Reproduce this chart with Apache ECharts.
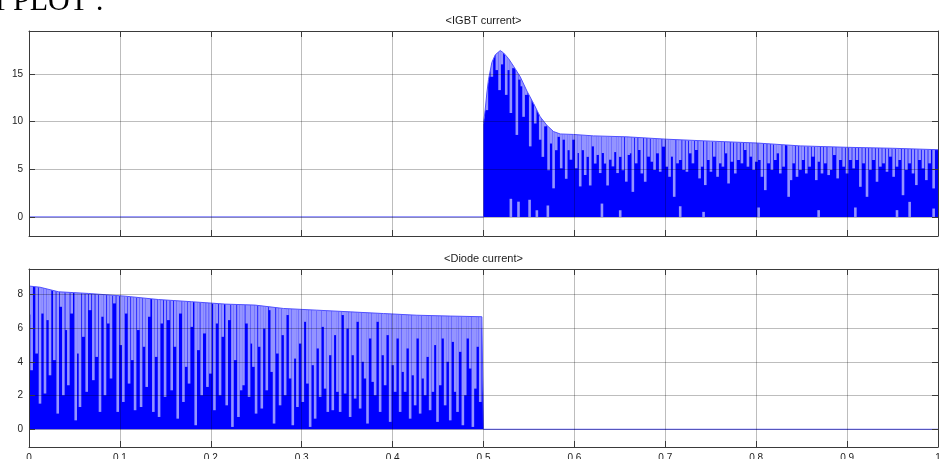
<!DOCTYPE html>
<html>
<head>
<meta charset="utf-8">
<script src="https://cdn.jsdelivr.net/npm/echarts@6/dist/echarts.min.js"></script>
<style>
html,body{margin:0;padding:0;background:#fff;}
#chart{width:940px;height:459px;}
</style>
</head>
<body>
<div id="chart"></div>
<script>
// ---------------- data ----------------
const xTicks = [0,0.1,0.2,0.3,0.4,0.5,0.6,0.7,0.8,0.9,1];
const xTickLabels = ['0','0.1','0.2','0.3','0.4','0.5','0.6','0.7','0.8','0.9','1'];
const igbtTicks = [0,5,10,15];
const diodeTicks = [0,2,4,6,8];
const igbtRange = [-2,19.5];
const diodeRange = [-1.05,9.5];
const titles = ['<IGBT current>','<Diode current>'];

// upper envelope of the switching waveform [t, A]
const igbtEnvelope = [[0,0],[0.5,0],[0.5,9.8],[0.5018,11.2],[0.5037,13.0],[0.5055,14.4],[0.5092,16.2],[0.5129,17.0],[0.5184,17.45],[0.5221,17.2],[0.5276,16.6],[0.5331,15.8],[0.5404,14.7],[0.5478,13.2],[0.5551,11.9],[0.5624,10.5],[0.5698,9.6],[0.5771,8.95],[0.5844,8.7],[0.5991,8.65],[0.6211,8.5],[0.6578,8.4],[0.7018,8.15],[0.75,7.95],[0.8012,7.75],[0.8484,7.45],[0.9003,7.3],[0.95,7.2],[1,7.05]];
const diodeEnvelope = [[0,8.49],[0.0121,8.42],[0.0323,8.15],[0.0653,8.05],[0.1057,7.89],[0.1423,7.69],[0.179,7.56],[0.2157,7.42],[0.2487,7.36],[0.2799,7.16],[0.3166,7.06],[0.3533,6.96],[0.39,6.86],[0.4266,6.76],[0.4634,6.71],[0.4982,6.67],[0.5,6.66],[0.5,0],[1,0]];

// lighter streaks: [t, lower end] (they run up to the envelope)
const igbtStreaks = [[0.5037,11.2],[0.5092,14.7],[0.5147,15.4],[0.5177,13.3],[0.5202,16.0],[0.525,12.8],[0.5275,15.4],[0.5301,10.9],[0.5323,15.6],[0.5367,8.6],[0.5397,14.4],[0.5422,13.7],[0.5441,10.5],[0.547,12.8],[0.5514,7.4],[0.5543,12.5],[0.5569,9.8],[0.5595,11.2],[0.5624,8.1],[0.5653,6.3],[0.5679,9.5],[0.5716,4.9],[0.5741,7.7],[0.5771,3.0],[0.58,7.0],[0.5826,8.4],[0.5855,5.1],[0.5881,8.1],[0.591,4.0],[0.5936,7.0],[0.5962,6.0],[0.5991,8.1],[0.602,5.1],[0.6046,6.7],[0.6064,3.2],[0.6094,7.0],[0.6119,4.4],[0.6145,6.3],[0.6174,3.3],[0.6204,7.4],[0.6229,5.6],[0.6255,6.5],[0.6284,4.6],[0.6314,6.7],[0.6339,5.6],[0.6365,3.3],[0.6395,6.0],[0.6424,5.3],[0.6449,6.8],[0.6475,4.6],[0.6504,6.3],[0.6534,4.9],[0.6571,3.7],[0.6596,6.5],
[0.6614,6.67],[0.6643,2.63],[0.668,5.62],[0.6717,7.02],[0.6742,4.56],[0.6779,3.69],[0.6816,6.32],[0.6853,5.79],[0.6882,4.92],[0.6915,6.67],[0.6944,4.74],[0.6981,7.37],[0.7018,5.27],[0.7047,4.21],[0.7073,6.32],[0.7098,2.11],[0.7135,5.62],[0.7164,5.97],[0.7201,4.92],[0.7238,4.74],[0.7275,6.67],[0.7304,5.62],[0.7341,7.02],[0.7377,4.04],[0.7403,5.27],[0.744,3.34],[0.7476,5.97],[0.7502,4.74],[0.7539,6.32],[0.7575,4.21],[0.7605,5.62],[0.7634,5.27],[0.7671,6.67],[0.7696,3.51],[0.7733,5.79],[0.777,4.56],[0.7806,5.97],[0.7843,5.62],[0.788,7.02],[0.7909,5.27],[0.7942,6.32],[0.7972,4.92],[0.8001,5.79],[0.8038,5.97],[0.8063,4.21],[0.81,2.81],[0.8137,5.62],[0.8173,4.92],[0.821,5.97],[0.8236,6.67],[0.8265,4.56],[0.8302,5.27],[0.8357,2.11],[0.8383,3.86],[0.8412,5.62],[0.8449,4.21],[0.8486,4.92],[0.8515,5.97],[0.8551,4.56],[0.8588,5.27],[0.8625,6.32],[0.8661,3.86],[0.8687,5.79],[0.8724,4.56],[0.876,5.62],[0.8797,4.39],[0.8823,4.92],[0.886,6.49],[0.8896,4.04],[0.8926,5.97],[0.8962,5.27],[0.8999,4.56],[0.9036,5.97],[0.9072,5.09],[0.9109,5.97],[0.9146,3.16],[0.9182,5.62],[0.9219,2.11],[0.9256,4.92],[0.9292,5.97],[0.9329,3.69],[0.9366,5.27],[0.9402,5.62],[0.9439,4.74],[0.9476,6.32],[0.9512,4.21],[0.9549,5.27],[0.9578,5.97],[0.9615,2.28],[0.9652,4.92],[0.9688,5.62],[0.9725,4.56],[0.9762,3.34],[0.9798,5.97],[0.9835,5.09],[0.9872,3.86],[0.9908,5.62],[0.9952,2.99]];
// light streaks near zero: [t, upper end]
const igbtLowStreaks = [[0.5301,1.9],[0.5385,1.6],[0.5507,1.8],[0.5587,0.7],[0.5708,1.2],[0.6303,1.4],[0.6504,0.7],[0.7164,1.12],[0.7421,0.53],[0.8027,0.99],[0.8687,0.71],[0.9091,0.99],[0.9549,0.71],[0.9688,1.58],[0.9952,0.88]];
const diodeStreaks = [[0.0008,6.8],[0.0029,3.5],[0.0084,4.49],[0.0121,1.52],[0.0147,6.86],[0.0176,2.12],[0.0205,6.47],[0.0231,3.2],[0.0279,4.1],[0.0316,0.93],[0.0352,7.26],[0.0378,2.02],[0.0415,5.88],[0.0433,2.61],[0.047,6.86],[0.0514,0.53],[0.0543,4.49],[0.0561,1.32],[0.0598,5.48],[0.0635,2.22],[0.0671,7.06],[0.0708,2.91],[0.0745,4.29],[0.0781,1.03],[0.0807,6.67],[0.0836,2.02],[0.0873,6.27],[0.0902,3.01],[0.0939,7.46],[0.0976,1.03],[0.1013,4.99],[0.1038,1.62],[0.1068,6.86],[0.1101,2.71],[0.1137,4.1],[0.1167,1.13],[0.1203,5.88],[0.1233,1.32],[0.1266,4.89],[0.1295,2.51],[0.1321,6.67],[0.1368,1.03],[0.1398,4.29],[0.1431,0.73],[0.146,6.27],[0.1497,1.92],[0.1533,6.47],[0.157,2.31],[0.1607,4.89],[0.1636,0.63],[0.1665,6.86],[0.1699,1.62],[0.1728,3.7],[0.1761,2.71],[0.179,6.07],[0.1834,0.24],[0.1864,4.69],[0.19,2.02],[0.193,5.68],[0.1963,2.51],[0.1996,3.3],[0.204,1.13],[0.2065,6.27],[0.2102,2.02],[0.2131,5.48],[0.2175,1.42],[0.2201,6.47],[0.2238,0.14],[0.2267,4.1],[0.2304,0.73],[0.2333,2.31],[0.2359,2.61],[0.2395,6.27],[0.2421,1.92],[0.2451,5.08],
[0.2469,3.7],[0.2498,0.93],[0.2535,4.89],[0.2561,1.23],[0.259,5.97],[0.2616,2.31],[0.2652,7.06],[0.2671,3.4],[0.2696,0.34],[0.2733,4.49],[0.2762,1.42],[0.2792,5.58],[0.2818,2.02],[0.2843,6.77],[0.2873,3.01],[0.2902,0.24],[0.2928,4.19],[0.2953,1.32],[0.2983,5.08],[0.3012,1.62],[0.3038,6.37],[0.3063,2.71],[0.3093,0.14],[0.3122,3.8],[0.3148,0.63],[0.3177,4.79],[0.3203,1.92],[0.3232,6.07],[0.3258,2.41],[0.3287,1.03],[0.3313,4.39],[0.3342,1.13],[0.3368,5.58],[0.3393,2.22],[0.3423,1.03],[0.3452,6.77],[0.3478,2.12],[0.3503,5.97],[0.3533,0.73],[0.3562,4.39],[0.3588,1.82],[0.3614,6.37],[0.3643,1.23],[0.3672,4.0],[0.3698,3.01],[0.3724,0.34],[0.3753,5.38],[0.3782,2.81],[0.3808,2.02],[0.3834,6.37],[0.3863,1.03],[0.3892,4.39],[0.3918,2.61],[0.3944,5.58],[0.3973,0.44],[0.4002,3.8],[0.4028,2.22],[0.4054,5.38],[0.4083,1.03],[0.4113,3.4],[0.4138,2.22],[0.4164,4.79],[0.4193,0.63],[0.4223,3.2],[0.4248,1.42],[0.4274,5.38],[0.4303,0.93],[0.4333,3.01],[0.4358,2.02],[0.4384,4.29],[0.4413,1.13],[0.4443,2.22],[0.4468,4.99],[0.4494,0.44],[0.4523,2.61],[0.4553,5.38],[0.4578,1.42],[0.4604,4.0],[0.4634,0.53],[0.4663,5.18],[0.4689,2.22],[0.4714,1.03],[0.4744,4.59],[0.4773,0.24],[0.4799,2.02],[0.4825,5.38],[0.4854,3.6],[0.4883,0.14],[0.4909,2.41],[0.4934,4.89],[0.4964,1.62],[0.4989,5.97]];

// ---------------- chart ----------------
const BLUE = '#0000ff';
const LIGHT = '#9494ff';
const AXIS = '#3a3a3a';
const GRIDLINE = 'rgba(0,0,0,0.26)';
const FONT = 'Liberation Sans';

const chart = echarts.init(document.getElementById('chart'), null, {renderer: 'canvas'});

const grids = [
  {left: 29, top: 31, width: 909, height: 205, outerBoundsMode: 'none', containLabel: false},
  {left: 29, top: 269, width: 909, height: 178, outerBoundsMode: 'none', containLabel: false}
];
const ranges = [igbtRange, diodeRange];
const yTicks = [igbtTicks, diodeTicks];

const xAxes = [], yAxes = [];
for (let g = 0; g < 2; g++) {
  ['bottom','top'].forEach((pos) => {
    xAxes.push({
      type: 'value', gridIndex: g, position: pos, min: 0, max: 1, interval: 0.1, z: 10,
      axisLine: {show: true, onZero: false, lineStyle: {color: AXIS, width: 1}},
      axisTick: {show: true, inside: true, length: 6, lineStyle: {color: AXIS}},
      axisLabel: {show: (g === 1 && pos === 'bottom'), margin: 6, color: '#222', fontFamily: FONT, fontSize: 10,
        formatter: (v) => xTickLabels[Math.round(v * 10)]},
      splitLine: {show: false}
    });
  });
  ['left','right'].forEach((pos) => {
    yAxes.push({
      type: 'value', gridIndex: g, position: pos, min: ranges[g][0], max: ranges[g][1], z: 10,
      axisLine: {show: true, onZero: false, lineStyle: {color: AXIS, width: 1}},
      axisTick: {show: true, inside: true, length: 6, lineStyle: {color: AXIS}, customValues: yTicks[g]},
      axisLabel: {show: pos === 'left', margin: 6, color: '#222', fontFamily: FONT, fontSize: 10, customValues: yTicks[g]},
      splitLine: {show: false}
    });
  });
}

function streakRender(topValue) {
  return function (params, api) {
    const t = api.value(0);
    const a = api.coord([t, api.value(1)]);
    const b = api.coord([t, topValue === null ? 0 : topValue]);
    return {
      type: 'line',
      shape: {x1: a[0], y1: a[1], x2: b[0], y2: b[1]},
      style: {stroke: LIGHT, lineWidth: 2.6}
    };
  };
}

const envelopes = [igbtEnvelope, diodeEnvelope];
const streaks = [igbtStreaks, diodeStreaks];
const series = [];
for (let g = 0; g < 2; g++) {
  const xi = g * 2, yi = g * 2;
  series.push({
    type: 'line', xAxisIndex: xi, yAxisIndex: yi, data: envelopes[g], showSymbol: false, z: 1,
    lineStyle: {width: 0}, areaStyle: {color: BLUE, opacity: 1}, silent: true
  });
  series.push({
    type: 'custom', xAxisIndex: xi, yAxisIndex: yi, data: streaks[g], z: 2, clip: true, silent: true,
    encode: {x: 0, y: 1},
    renderItem: streakRender(ranges[g][1])
  });
  if (g === 0) {
    series.push({
      type: 'custom', xAxisIndex: xi, yAxisIndex: yi, data: igbtLowStreaks, z: 2, clip: true, silent: true,
      encode: {x: 0, y: 1},
      renderItem: streakRender(null)
    });
  }
  series.push({
    type: 'line', xAxisIndex: xi, yAxisIndex: yi, data: envelopes[g], showSymbol: false, z: 3,
    lineStyle: {width: 0}, areaStyle: {color: '#ffffff', opacity: 1, origin: 'end'}, silent: true
  });
  const gridLines = [];
  xTicks.slice(1, -1).forEach((v) => gridLines.push({xAxis: v}));
  yTicks[g].forEach((v) => gridLines.push({yAxis: v}));
  series.push({
    type: 'line', xAxisIndex: xi, yAxisIndex: yi, data: envelopes[g], showSymbol: false, z: 4,
    lineStyle: {color: '#5050ff', width: 1}, silent: true,
    markLine: {silent: true, symbol: ['none','none'], label: {show: false}, animation: false,
      lineStyle: {color: GRIDLINE, width: 1, type: 'solid'}, data: gridLines}
  });
}

chart.setOption({
  backgroundColor: '#ffffff',
  animation: false,
  grid: grids,
  xAxis: xAxes,
  yAxis: yAxes,
  series: series,
  graphic: [
    {type: 'text', x: 483.5, y: 21, style: {text: titles[0], font: '11px "Liberation Sans"', fill: '#1a1a1a', align: 'center', verticalAlign: 'middle'}},
    {type: 'text', x: 483.5, y: 259, style: {text: titles[1], font: '11px "Liberation Sans"', fill: '#1a1a1a', align: 'center', verticalAlign: 'middle'}},
    {type: 'text', x: 9, y: 17, style: {text: 'OUTPUT', font: '30px "Liberation Serif"', fill: '#000', align: 'right', verticalAlign: 'bottom'}},
    {type: 'text', x: 13, y: 17, style: {text: 'PLOT :', font: '30px "Liberation Serif"', fill: '#000', align: 'left', verticalAlign: 'bottom'}}
  ]
});
</script>
</body>
</html>
